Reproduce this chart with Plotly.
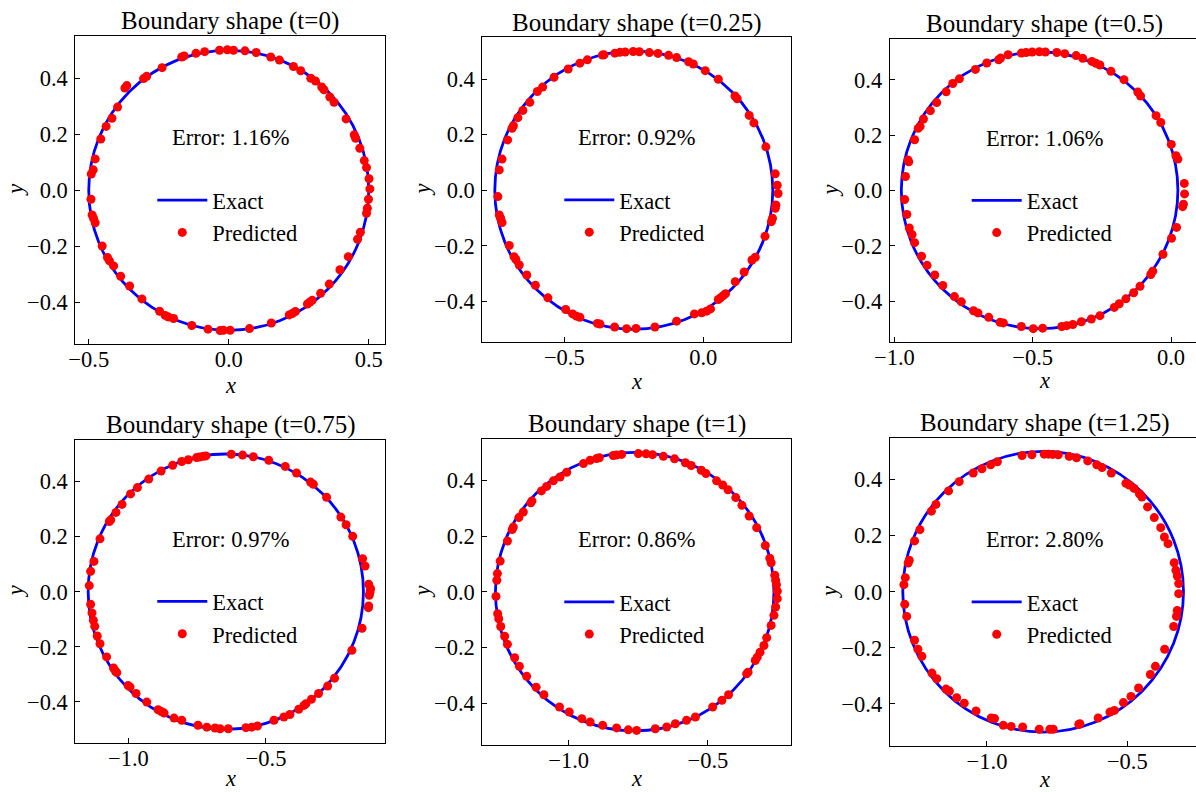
import plotly.graph_objects as go

W, H = 1196, 792
FONT = "Liberation Serif, Times New Roman, serif"

titles = ["Boundary shape (t=0)", "Boundary shape (t=0.25)", "Boundary shape (t=0.5)",
          "Boundary shape (t=0.75)", "Boundary shape (t=1)", "Boundary shape (t=1.25)"]
error_labels = ["Error: 1.16%", "Error: 0.92%", "Error: 1.06%",
                "Error: 0.97%", "Error: 0.86%", "Error: 2.80%"]
exact_center_x = [0.0, -0.25, -0.475, -0.646, -0.763, -0.800]
exact_radius = 0.5

pred_x_t0 = [-0.033, -0.005, 0.017, 0.058, 0.098, 0.150, 0.181, 0.231, 0.257, 0.293,
             0.310, 0.332, 0.340, 0.361, 0.376, 0.419, 0.448, 0.453, 0.468, 0.484,
             0.492, 0.501, 0.504, 0.499, 0.495, 0.492, 0.470, 0.460, 0.427, 0.397,
             0.359, 0.328, 0.298, 0.290, 0.281, 0.238, 0.227, 0.216, 0.152, 0.074,
             0.005, -0.019, -0.031, -0.074, -0.132, -0.197, -0.215, -0.227, -0.247, -0.310,
             -0.354, -0.386, -0.411, -0.426, -0.433, -0.452, -0.477, -0.483, -0.488, -0.492,
             -0.491, -0.484, -0.477, -0.457, -0.438, -0.417, -0.397, -0.371, -0.364, -0.304,
             -0.293, -0.238, -0.168, -0.159, -0.117, -0.086]
pred_y_t0 = [0.500, 0.502, 0.500, 0.498, 0.492, 0.476, 0.465, 0.442, 0.427, 0.400,
             0.390, 0.369, 0.359, 0.333, 0.314, 0.255, 0.198, 0.186, 0.150, 0.106,
             0.081, 0.041, 0.005, -0.032, -0.064, -0.082, -0.150, -0.175, -0.237, -0.284,
             -0.335, -0.368, -0.393, -0.399, -0.406, -0.433, -0.440, -0.445, -0.474, -0.494,
             -0.500, -0.500, -0.501, -0.496, -0.483, -0.458, -0.453, -0.447, -0.432, -0.388,
             -0.342, -0.307, -0.270, -0.252, -0.240, -0.199, -0.116, -0.100, -0.088, -0.032,
             0.058, 0.073, 0.112, 0.183, 0.228, 0.257, 0.297, 0.365, 0.374, 0.399,
             0.407, 0.438, 0.476, 0.480, 0.489, 0.495]

pred_x_t025 = [-0.363, -0.357, -0.318, -0.300, -0.281, -0.252, -0.230, -0.194, -0.163, -0.125,
               -0.096, -0.053, -0.036, 0.007, 0.054, 0.114, 0.122, 0.165, 0.182, 0.225,
               0.259, 0.266, 0.269, 0.261, 0.259, 0.249, 0.245, 0.222, 0.187, 0.175,
               0.147, 0.115, 0.080, 0.072, 0.062, 0.054, 0.026, 0.012, -0.006, -0.032,
               -0.096, -0.174, -0.242, -0.276, -0.319, -0.372, -0.381, -0.444, -0.456, -0.470,
               -0.495, -0.559, -0.604, -0.635, -0.662, -0.674, -0.681, -0.698, -0.724, -0.729,
               -0.734, -0.739, -0.734, -0.724, -0.704, -0.688, -0.683, -0.667, -0.649, -0.624,
               -0.597, -0.578, -0.537, -0.486, -0.444, -0.417]
pred_y_t025 = [0.486, 0.487, 0.493, 0.496, 0.497, 0.499, 0.498, 0.495, 0.492, 0.485,
               0.477, 0.462, 0.454, 0.430, 0.399, 0.339, 0.329, 0.269, 0.242, 0.156,
               0.059, 0.018, -0.012, -0.053, -0.065, -0.101, -0.113, -0.166, -0.241, -0.251,
               -0.294, -0.329, -0.372, -0.379, -0.387, -0.393, -0.427, -0.435, -0.441, -0.445,
               -0.471, -0.492, -0.497, -0.498, -0.492, -0.481, -0.479, -0.457, -0.453, -0.445,
               -0.429, -0.387, -0.342, -0.305, -0.269, -0.249, -0.239, -0.199, -0.116, -0.101,
               -0.089, -0.023, 0.073, 0.112, 0.181, 0.223, 0.232, 0.261, 0.287, 0.316,
               0.355, 0.371, 0.406, 0.436, 0.457, 0.469]

pred_x_t05 = [-0.623, -0.616, -0.589, -0.541, -0.524, -0.502, -0.476, -0.454, -0.413, -0.384,
              -0.343, -0.319, -0.286, -0.271, -0.257, -0.217, -0.170, -0.120, -0.110, -0.054,
              -0.037, 0.001, 0.018, 0.025, 0.048, 0.049, 0.045, 0.042, 0.020, 0.002,
              -0.029, -0.066, -0.073, -0.112, -0.135, -0.163, -0.187, -0.205, -0.257, -0.288,
              -0.324, -0.355, -0.377, -0.395, -0.464, -0.498, -0.541, -0.606, -0.618, -0.659,
              -0.698, -0.714, -0.758, -0.783, -0.825, -0.854, -0.882, -0.902, -0.927, -0.936,
              -0.946, -0.955, -0.963, -0.960, -0.948, -0.951, -0.927, -0.914, -0.907, -0.895,
              -0.870, -0.847, -0.813, -0.789, -0.765, -0.707, -0.666]
pred_y_t05 = [0.472, 0.478, 0.490, 0.496, 0.498, 0.500, 0.501, 0.500, 0.498, 0.494,
              0.487, 0.477, 0.466, 0.459, 0.453, 0.430, 0.400, 0.355, 0.341, 0.270,
              0.245, 0.166, 0.125, 0.113, 0.025, -0.013, -0.050, -0.059, -0.134, -0.173,
              -0.231, -0.292, -0.304, -0.347, -0.370, -0.392, -0.410, -0.423, -0.453, -0.465,
              -0.475, -0.485, -0.489, -0.492, -0.498, -0.500, -0.492, -0.479, -0.477, -0.459,
              -0.443, -0.435, -0.403, -0.384, -0.344, -0.306, -0.271, -0.238, -0.189, -0.160,
              -0.136, -0.087, -0.033, 0.050, 0.103, 0.110, 0.183, 0.224, 0.231, 0.258,
              0.288, 0.317, 0.356, 0.386, 0.403, 0.437, 0.460]

pred_x_t075 = [-0.626, -0.585, -0.546, -0.490, -0.430, -0.389, -0.338, -0.328, -0.280, -0.228,
               -0.209, -0.185, -0.149, -0.140, -0.127, -0.120, -0.122, -0.125, -0.127, -0.128,
               -0.151, -0.188, -0.251, -0.276, -0.309, -0.335, -0.355, -0.362, -0.381, -0.413,
               -0.435, -0.471, -0.531, -0.552, -0.573, -0.637, -0.667, -0.685, -0.715, -0.747,
               -0.806, -0.834, -0.870, -0.880, -0.892, -0.933, -0.972, -0.994, -1.001, -1.042,
               -1.047, -1.054, -1.079, -1.103, -1.113, -1.122, -1.127, -1.132, -1.137, -1.142,
               -1.137, -1.125, -1.103, -1.069, -1.064, -1.045, -1.023, -0.992, -0.967, -0.926,
               -0.881, -0.839, -0.806, -0.782, -0.752, -0.742, -0.728, -0.718]
pred_y_t075 = [0.499, 0.496, 0.490, 0.477, 0.455, 0.431, 0.398, 0.390, 0.343, 0.271,
               0.243, 0.201, 0.120, 0.093, 0.027, 0.011, -0.001, -0.013, -0.052, -0.058,
               -0.133, -0.213, -0.314, -0.343, -0.370, -0.391, -0.407, -0.413, -0.427, -0.446,
               -0.455, -0.467, -0.488, -0.492, -0.494, -0.498, -0.498, -0.495, -0.492, -0.485,
               -0.467, -0.459, -0.441, -0.435, -0.429, -0.401, -0.370, -0.346, -0.341, -0.294,
               -0.288, -0.277, -0.237, -0.189, -0.161, -0.126, -0.104, -0.077, -0.046, 0.022,
               0.074, 0.110, 0.192, 0.255, 0.261, 0.288, 0.317, 0.355, 0.378, 0.409,
               0.438, 0.459, 0.473, 0.479, 0.487, 0.489, 0.492, 0.493]

pred_x_t1 = [-0.840, -0.828, -0.810, -0.750, -0.722, -0.699, -0.660, -0.620, -0.581, -0.560,
             -0.524, -0.507, -0.469, -0.447, -0.428, -0.400, -0.378, -0.352, -0.325, -0.294,
             -0.278, -0.273, -0.260, -0.257, -0.254, -0.251, -0.251, -0.257, -0.263, -0.273,
             -0.289, -0.299, -0.313, -0.323, -0.330, -0.356, -0.361, -0.426, -0.450, -0.483,
             -0.545, -0.577, -0.617, -0.648, -0.689, -0.756, -0.786, -0.828, -0.878, -0.923,
             -0.953, -0.998, -1.033, -1.089, -1.117, -1.151, -1.177, -1.194, -1.220, -1.230,
             -1.244, -1.251, -1.255, -1.261, -1.258, -1.256, -1.246, -1.220, -1.203, -1.199,
             -1.179, -1.163, -1.136, -1.132, -1.098, -1.079, -1.055, -1.031, -1.007, -0.947,
             -0.923, -0.900, -0.890]
pred_y_t1 = [0.489, 0.491, 0.493, 0.496, 0.495, 0.492, 0.486, 0.477, 0.463, 0.453,
             0.436, 0.424, 0.398, 0.383, 0.366, 0.338, 0.310, 0.272, 0.230, 0.166,
             0.120, 0.104, 0.059, 0.041, 0.025, 0.002, -0.025, -0.055, -0.085, -0.121,
             -0.165, -0.193, -0.217, -0.235, -0.247, -0.289, -0.295, -0.370, -0.390, -0.414,
             -0.450, -0.462, -0.474, -0.486, -0.492, -0.498, -0.496, -0.489, -0.480, -0.468,
             -0.456, -0.432, -0.414, -0.370, -0.343, -0.304, -0.268, -0.237, -0.189, -0.160,
             -0.125, -0.097, -0.079, -0.017, 0.041, 0.065, 0.110, 0.182, 0.223, 0.232,
             0.266, 0.286, 0.319, 0.326, 0.362, 0.378, 0.398, 0.412, 0.429, 0.460,
             0.472, 0.478, 0.481]

pred_x_t125 = [-0.875, -0.840, -0.796, -0.781, -0.766, -0.746, -0.707, -0.681, -0.641, -0.609,
               -0.590, -0.557, -0.505, -0.493, -0.476, -0.457, -0.448, -0.428, -0.404, -0.381,
               -0.368, -0.355, -0.333, -0.327, -0.322, -0.317, -0.317, -0.322, -0.325, -0.335,
               -0.367, -0.400, -0.418, -0.460, -0.487, -0.514, -0.546, -0.562, -0.604, -0.669,
               -0.673, -0.764, -0.776, -0.814, -0.873, -0.914, -0.942, -0.973, -0.985, -1.039,
               -1.081, -1.108, -1.134, -1.146, -1.179, -1.196, -1.232, -1.246, -1.258, -1.286,
               -1.293, -1.296, -1.291, -1.281, -1.277, -1.258, -1.239, -1.198, -1.182, -1.137,
               -1.099, -1.049, -1.018, -0.987, -0.963]
pred_y_t125 = [0.485, 0.488, 0.490, 0.490, 0.489, 0.488, 0.482, 0.477, 0.466, 0.452,
               0.442, 0.423, 0.386, 0.380, 0.368, 0.349, 0.337, 0.302, 0.264, 0.228,
               0.195, 0.171, 0.103, 0.076, 0.056, 0.029, -0.007, -0.067, -0.088, -0.124,
               -0.205, -0.266, -0.295, -0.343, -0.373, -0.395, -0.423, -0.429, -0.450, -0.470,
               -0.473, -0.490, -0.490, -0.490, -0.482, -0.480, -0.476, -0.452, -0.450, -0.425,
               -0.397, -0.378, -0.354, -0.347, -0.310, -0.290, -0.230, -0.205, -0.173, -0.088,
               -0.045, 0.025, 0.050, 0.102, 0.112, 0.181, 0.221, 0.287, 0.311, 0.359,
               0.392, 0.423, 0.438, 0.452, 0.463]

pred_x = [pred_x_t0, pred_x_t025, pred_x_t05, pred_x_t075, pred_x_t1, pred_x_t125]
pred_y = [pred_y_t0, pred_y_t025, pred_y_t05, pred_y_t075, pred_y_t1, pred_y_t125]

x_tick_values = [[-0.5, 0.0, 0.5], [-0.5, 0.0], [-1.0, -0.5, 0.0],
                 [-1.0, -0.5], [-1.0, -0.5], [-1.0, -0.5]]
y_tick_values = [-0.4, -0.2, 0.0, 0.2, 0.4]

# ---------- layout (pixel boxes of each axes frame: left, right, top, bottom) ----------
boxes = [(75.3, 385.0, 36.0, 344.0), (482.3, 791.0, 37.3, 342.3), (889.7, 1199.0, 38.7, 341.7),
         (75.3, 385.0, 439.7, 743.0), (482.3, 791.0, 438.7, 744.7), (889.7, 1199.0, 437.7, 746.0)]
x_ranges = [(-0.548, 0.558), (-0.795, 0.3155), (-1.017, 0.0904),
            (-1.1927, -0.0677), (-1.3102, -0.2018), (-1.3466, -0.2554)]
y_ranges = [(-0.549, 0.551), (-0.547, 0.550), (-0.547, 0.548),
            (-0.5496, 0.552), (-0.5494, 0.5494), (-0.5497, 0.5486)]
x_label_gap = [41.0, 38.5, 38.5, 35.0, 33.5, 32.5]


def fx(px):
    return px / W


def fy(py):
    return 1 - py / H


def tick_text(v):
    return f"{v:.1f}".replace("-", "\u2212")


fig = go.Figure()
annotations = []
shapes = []
layout = dict(width=W, height=H, autosize=False, margin=dict(l=0, r=0, t=0, b=0, pad=0),
              paper_bgcolor="white", plot_bgcolor="white",
              font=dict(family=FONT, size=22.5, color="black"))

for i in range(6):
    n = "" if i == 0 else str(i + 1)
    xa, ya = "x" + n, "y" + n
    leg = "legend" + n
    left, right, top, bottom = boxes[i]
    vis_right = min(right, W)
    cx_px = (left + right) / 2
    cy_px = (top + bottom) / 2
    partial = right > W

    fig.add_trace(go.Scatter(x=[None], y=[None], mode="lines", name="Exact",
                             line=dict(color="#0000ff", width=2.8),
                             xaxis=xa, yaxis=ya, legend=leg, hoverinfo="skip"))
    fig.add_trace(go.Scatter(x=pred_x[i], y=pred_y[i], mode="markers", name="Predicted",
                             marker=dict(color="#ff0000", size=9, line=dict(width=0)),
                             xaxis=xa, yaxis=ya, legend=leg))

    shapes.append(dict(type="circle", xref=xa, yref=ya, layer="below",
                       x0=exact_center_x[i] - exact_radius, x1=exact_center_x[i] + exact_radius,
                       y0=-exact_radius, y1=exact_radius,
                       line=dict(color="#0000ff", width=2.8)))

    common = dict(showgrid=False, zeroline=False, showline=True, linecolor="black",
                  linewidth=1, ticks="inside", ticklen=5, tickwidth=1, tickcolor="black",
                  automargin=False,
                  tickfont=dict(family=FONT, size=22.5, color="black"))
    layout["xaxis" + n] = dict(common, domain=[fx(left), fx(vis_right)], anchor=ya,
                               range=list(x_ranges[i]), mirror=True, ticklabelstandoff=-5,
                               tickvals=x_tick_values[i],
                               ticktext=[tick_text(v) for v in x_tick_values[i]])
    layout["yaxis" + n] = dict(common, domain=[fy(bottom), fy(top)], anchor=xa,
                               range=list(y_ranges[i]), mirror=not partial,
                               ticklabelstandoff=2,
                               tickvals=y_tick_values,
                               ticktext=[tick_text(v) for v in y_tick_values])

    layout[leg] = dict(x=fx(left + 77), y=fy(cy_px + 26.5), xanchor="left", yanchor="middle",
                       xref="paper", yref="paper", bgcolor="rgba(0,0,0,0)", itemwidth=50,
                       font=dict(family=FONT, size=22.5, color="black"))

    annotations.append(dict(text=titles[i], x=fx(cx_px), y=fy(top - 14.5), xref="paper",
                            yref="paper", xanchor="center", yanchor="middle", showarrow=False,
                            font=dict(family=FONT, size=25, color="black")))
    annotations.append(dict(text=error_labels[i], x=fx(cx_px),
                            y=fy(bottom - 0.671 * (bottom - top)), xref="paper", yref="paper",
                            xanchor="center", yanchor="middle", showarrow=False,
                            font=dict(family=FONT, size=22.5, color="black")))
    annotations.append(dict(text="x", x=fx(cx_px), y=fy(bottom + x_label_gap[i]), xref="paper",
                            yref="paper", xanchor="center", yanchor="middle", showarrow=False,
                            height=18,
                            font=dict(family=FONT, size=22.5, color="black", style="italic")))
    annotations.append(dict(text="y", x=fx(left - 59.5), y=fy(cy_px), xref="paper",
                            yref="paper", xanchor="center", yanchor="middle", showarrow=False,
                            textangle=-90,
                            font=dict(family=FONT, size=22.5, color="black", style="italic")))

layout["annotations"] = annotations
layout["shapes"] = shapes
fig.update_layout(**layout)
fig.write_html("out.html", config={"responsive": False, "displayModeBar": False},
               post_script="document.body.style.margin='0';document.body.style.overflow='hidden';")
